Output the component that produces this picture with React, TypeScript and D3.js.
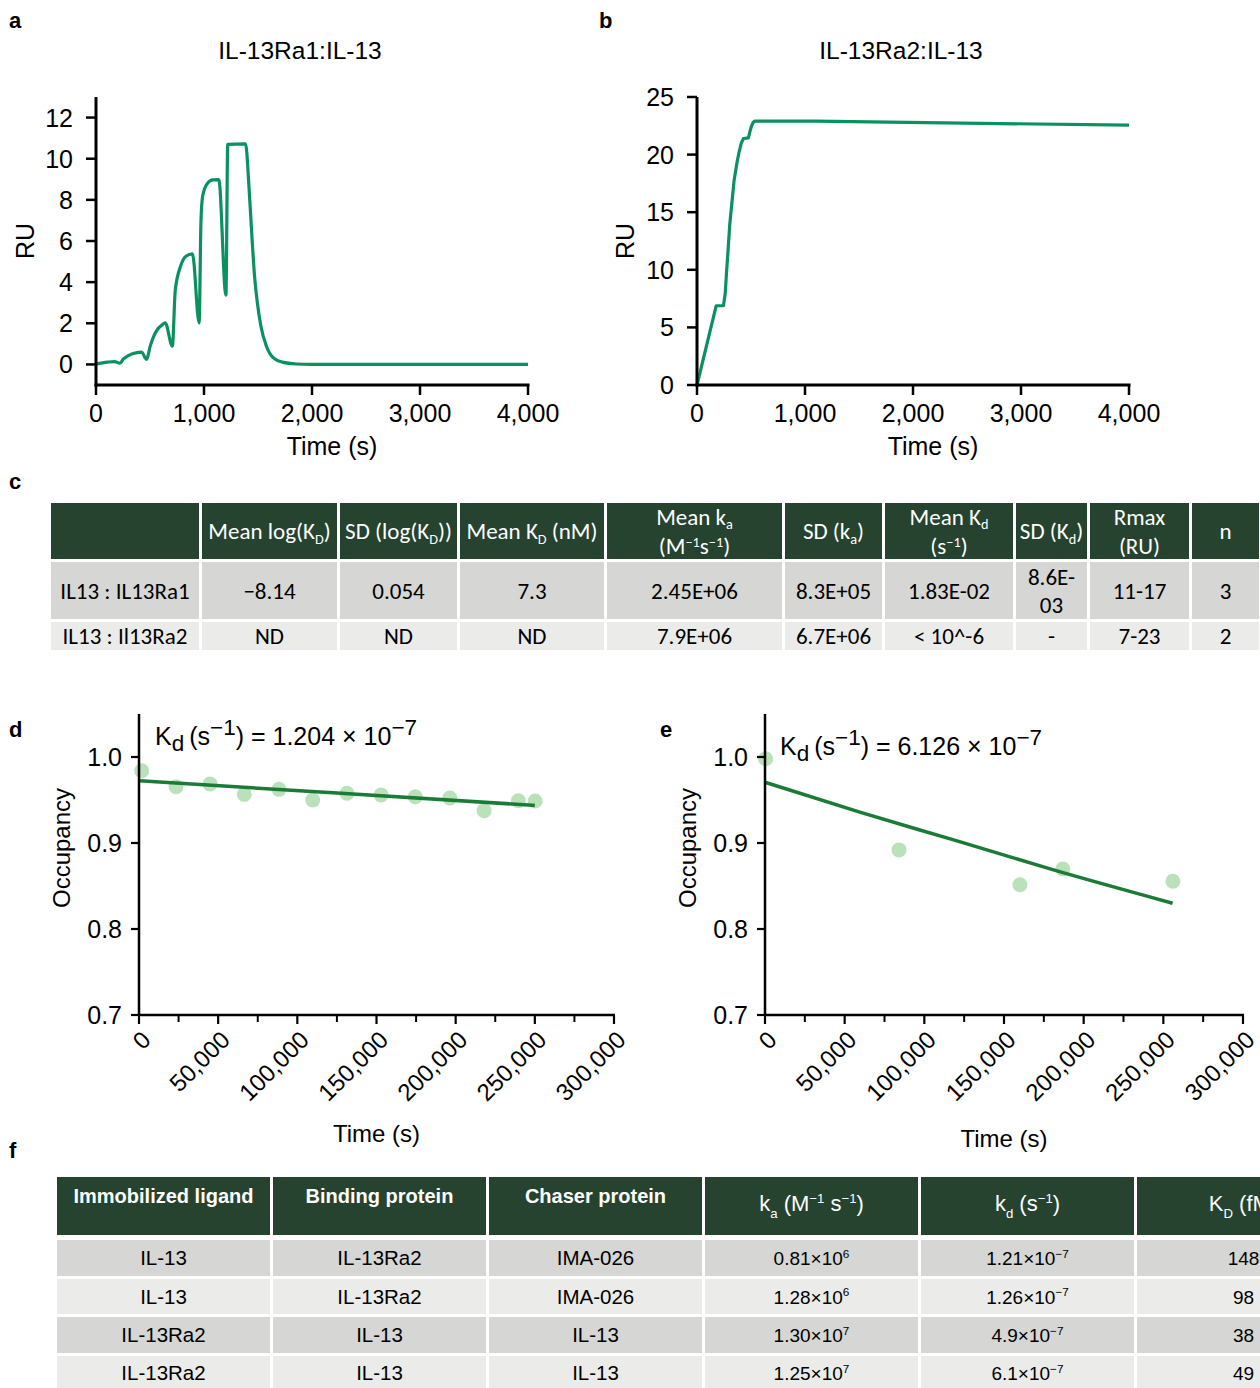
import React from 'react';
import * as d3 from 'd3';

// ---------- Panel a : IL-13Ra1:IL-13 sensorgram ----------
const aTime = [0, 106, 172, 221, 255, 300, 337, 420, 469, 502, 535, 569, 608, 641, 707, 734, 783, 833, 893, 955, 972, 988, 1031, 1081, 1137, 1203, 1220, 1385, 1418, 1445, 1468, 1494, 1527, 1577, 1643, 1726, 1858, 1990, 4000];
const aRU = [0.02, 0.11, 0.14, 0.06, 0.27, 0.43, 0.52, 0.6, 0.25, 0.89, 1.38, 1.7, 1.9, 2.02, 0.89, 3.6, 4.77, 5.26, 5.37, 2.02, 7.0, 8.2, 8.8, 8.97, 8.98, 3.37, 10.7, 10.72, 8.5, 6.1, 4.3, 3.0, 1.86, 0.9, 0.32, 0.11, 0.02, 0.0, 0.0];
const aYTicks = [0, 2, 4, 6, 8, 10, 12];

// ---------- Panel b : IL-13Ra2:IL-13 sensorgram ----------
const bTime = [0, 178, 245, 262, 271, 304, 344, 370, 387, 410, 430, 476, 490, 502, 520, 536, 1097, 4000];
const bRU = [0, 6.88, 6.88, 8.0, 9.4, 14.0, 17.8, 19.3, 20.1, 21.0, 21.4, 21.45, 22.0, 22.4, 22.8, 22.9, 22.9, 22.55];
const bYTicks = [0, 5, 10, 15, 20, 25];
const sensorXTicks = [0, 1000, 2000, 3000, 4000];

// ---------- Panel d ----------
const dTime = [1700, 23400, 44900, 66500, 88400, 109700, 131400, 152900, 174500, 196300, 218000, 239600, 250200];
const dOcc = [0.984, 0.9655, 0.9686, 0.9566, 0.9624, 0.95, 0.9578, 0.9558, 0.9538, 0.9523, 0.9376, 0.9492, 0.9488];
const dFitTime = [0, 125000, 250000];
const dFitOcc = [0.9725, 0.958, 0.9437];

// ---------- Panel e ----------
const eTime = [400, 84100, 160000, 186900, 256000];
const eOcc = [0.998, 0.892, 0.8515, 0.8698, 0.8555];
const eFitTime = [0, 60000, 120000, 180000, 255800];
const eFitOcc = [0.9706, 0.9356, 0.9027, 0.8693, 0.83];

const occYTicks = [0.7, 0.8, 0.9, 1.0];
const occXMajor = [0, 50000, 100000, 150000, 200000, 250000, 300000];
const occXMinor = [25000, 75000, 125000, 175000, 225000, 275000];

// ---------- Table c ----------
const cHeaders = [
  [''],
  ['Mean log(K_{D})'],
  ['SD (log(K_{D}))'],
  ['Mean K_{D} (nM)'],
  ['Mean k_{a}', '(M^{−1}s^{−1})'],
  ['SD (k_{a})'],
  ['Mean K_{d}', '(s^{−1})'],
  ['SD (K_{d})'],
  ['Rmax', '(RU)'],
  ['n'],
];
const cRow1 = ['IL13 : IL13Ra1', '−8.14', '0.054', '7.3', '2.45E+06', '8.3E+05', '1.83E-02', '8.6E-|03', '11-17', '3'];
const cRow2 = ['IL13 : Il13Ra2', 'ND', 'ND', 'ND', '7.9E+06', '6.7E+06', '< 10^-6', '-', '7-23', '2'];

// ---------- Table f ----------
const fHeaders = ['Immobilized ligand', 'Binding protein', 'Chaser protein', 'k_{a} (M^{−1} s^{−1})', 'k_{d} (s^{−1})', 'K_{D} (fM)'];
const fLigand = ['IL-13', 'IL-13', 'IL-13Ra2', 'IL-13Ra2'];
const fBinding = ['IL-13Ra2', 'IL-13Ra2', 'IL-13', 'IL-13'];
const fChaser = ['IMA-026', 'IMA-026', 'IL-13', 'IL-13'];
const fKa = ['0.81×10^{6}', '1.28×10^{6}', '1.30×10^{7}', '1.25×10^{7}'];
const fKd = ['1.21×10^{−7}', '1.26×10^{−7}', '4.9×10^{−7}', '6.1×10^{−7}'];
const fKD = ['148', '98', '38', '49'];

const ARIAL = "'Liberation Sans', Arial, sans-serif";
const CALIBRI = "Carlito, 'Open Sans', sans-serif";
const DARK = '#25432f';
const ROW_A = '#d6d6d4';
const ROW_B = '#ebecea';
const SENS_GREEN = '#0b9160';
const FIT_GREEN = '#1a7b36';
const DOT = '#afdcae';

function parseRich(s: string) {
  return s
    .split(/(_\{[^}]*\}|\^\{[^}]*\})/)
    .filter((p) => p.length)
    .map((p) => {
      if (p.startsWith('_{')) return { t: p.slice(2, -1), m: 'sub' };
      if (p.startsWith('^{')) return { t: p.slice(2, -1), m: 'sup' };
      return { t: p, m: '' };
    });
}

function Rich(props: any) {
  const { x, y, s, fs, anchor = 'middle', fill = '#000', weight = 'normal', family = ARIAL, subScale = 0.68, subShift = 0.25, supShift = 0.38 } = props;
  const segs = parseRich(s);
  let prev = 0;
  return (
    <text x={x} y={y} fontSize={fs} textAnchor={anchor} fill={fill} fontWeight={weight} fontFamily={family}>
      {segs.map((g, i) => {
        const shift = g.m === 'sub' ? subShift * fs : g.m === 'sup' ? -supShift * fs : 0;
        const dy = shift - prev;
        prev = shift;
        return (
          <tspan key={i} dy={dy} fontSize={g.m ? fs * subScale : fs}>
            {g.t}
          </tspan>
        );
      })}
    </text>
  );
}

function Sensorgram(props: any) {
  const { times, values, x0, x1, yDomain, yTicks, title, titleX, ylabX } = props;
  const x = d3.scaleLinear().domain([0, 4000]).range([x0, x1]);
  const y = d3.scaleLinear().domain(yDomain).range([385, 97]);
  const fmt = d3.format(',');
  const pts = times.map((t: number, i: number) => [t, values[i]] as [number, number]);
  const line = d3
    .line<[number, number]>()
    .x((d) => x(d[0]))
    .y((d) => y(d[1]))
    .curve(props.linear ? d3.curveLinear : d3.curveMonotoneX);
  const yb = y(yDomain[0]);
  const yt = y(yDomain[1]);
  return (
    <g fontFamily={ARIAL}>
      <text x={titleX} y={59} fontSize={24.5} textAnchor="middle">{title}</text>
      <path d={line(pts) || ''} fill="none" stroke={SENS_GREEN} strokeWidth={3.2} strokeLinejoin="round" />
      <line x1={x0} x2={x0} y1={yt} y2={yb + 1.5} stroke="#000" strokeWidth={3} />
      <line x1={x0 - 1.5} x2={x1 + 1.5} y1={yb} y2={yb} stroke="#000" strokeWidth={3} />
      {yTicks.map((v: number) => (
        <g key={v}>
          <line x1={x0 - 10} x2={x0} y1={y(v)} y2={y(v)} stroke="#000" strokeWidth={2.5} />
          <text x={x0 - 23} y={y(v) + 9} fontSize={25} textAnchor="end">{v}</text>
        </g>
      ))}
      {sensorXTicks.map((v) => (
        <g key={v}>
          <line x1={x(v)} x2={x(v)} y1={yb} y2={yb + 10} stroke="#000" strokeWidth={2.5} />
          <text x={x(v)} y={yb + 37} fontSize={25} textAnchor="middle">{fmt(v)}</text>
        </g>
      ))}
      <text x={(x0 + x1) / 2 + 20} y={455} fontSize={25} textAnchor="middle">Time (s)</text>
      <text transform={`translate(${ylabX},241) rotate(-90)`} fontSize={25} textAnchor="middle" dy="0.35em">RU</text>
    </g>
  );
}

function OccPanel(props: any) {
  const { times, occ, fitT, fitO, x0, x1, kdText, kdX, kdY, ylabX, timeY } = props;
  const x = d3.scaleLinear().domain([0, 300000]).range([x0, x1]);
  const y = d3.scaleLinear().domain([0.7, 1.0]).range([1015, 757]);
  const fmt = d3.format(',');
  const fitPts = fitT.map((t: number, i: number) => [t, fitO[i]] as [number, number]);
  const line = d3
    .line<[number, number]>()
    .x((d) => x(d[0]))
    .y((d) => y(d[1]))
    .curve(d3.curveMonotoneX);
  const yb = y(0.7);
  return (
    <g fontFamily={ARIAL}>
      {times.map((t: number, i: number) => (
        <circle key={i} cx={x(t)} cy={y(occ[i])} r={7.5} fill={DOT} opacity={0.85} />
      ))}
      <path d={line(fitPts) || ''} fill="none" stroke={FIT_GREEN} strokeWidth={3.5} />
      <line x1={x0} x2={x0} y1={y(1.05)} y2={yb + 1} stroke="#000" strokeWidth={2.5} />
      <line x1={x0 - 1} x2={x1 + 1} y1={yb} y2={yb} stroke="#000" strokeWidth={2.5} />
      {occYTicks.map((v: number) => (
        <g key={v}>
          <line x1={x0 - 8} x2={x0} y1={y(v)} y2={y(v)} stroke="#000" strokeWidth={2.2} />
          <text x={x0 - 17} y={y(v) + 9} fontSize={25} textAnchor="end">{v.toFixed(1)}</text>
        </g>
      ))}
      {occXMinor.map((v) => (
        <line key={v} x1={x(v)} x2={x(v)} y1={yb} y2={yb + 7} stroke="#000" strokeWidth={2} />
      ))}
      {occXMajor.map((v) => (
        <g key={v}>
          <line x1={x(v)} x2={x(v)} y1={yb} y2={yb + 9} stroke="#000" strokeWidth={2.2} />
          <text transform={`translate(${x(v) + 1},${yb + 14}) rotate(-45)`} fontSize={24} textAnchor="end" dy="0.72em">
            {fmt(v)}
          </text>
        </g>
      ))}
      <text x={(x0 + x1) / 2} y={timeY} fontSize={24} textAnchor="middle">Time (s)</text>
      <text transform={`translate(${ylabX},848) rotate(-90)`} fontSize={24} textAnchor="middle" dy="0.35em">Occupancy</text>
      <Rich x={kdX} y={kdY} s={kdText} fs={25} anchor="start" subScale={0.9} subShift={0.22} supShift={0.42} />
    </g>
  );
}

function TableC() {
  const colEdges = [51, 202, 340, 460, 607, 785, 885, 1016, 1090, 1192, 1262];
  const gap = 3;
  const hdrTop = 503, hdrBot = 559;
  const r1Top = 562, r1Bot = 619;
  const r2Top = 622, r2Bot = 650;
  const fs = 23;
  const cells: any[] = [];
  for (let c = 0; c < colEdges.length - 1; c++) {
    const xl = colEdges[c];
    const xr = colEdges[c + 1] - gap;
    const cx = (xl + xr) / 2;
    cells.push(<rect key={'h' + c} x={xl} y={hdrTop} width={xr - xl} height={hdrBot - hdrTop} fill={DARK} />);
    cells.push(<rect key={'a' + c} x={xl} y={r1Top} width={xr - xl} height={r1Bot - r1Top} fill={ROW_A} />);
    cells.push(<rect key={'b' + c} x={xl} y={r2Top} width={xr - xl} height={r2Bot - r2Top} fill={ROW_B} />);
    const hl = cHeaders[c];
    if (hl.length === 1) {
      cells.push(<Rich key={'ht' + c} x={cx} y={539} s={hl[0]} fs={fs} fill="#fff" family={CALIBRI} subScale={0.62} subShift={0.2} />);
    } else {
      cells.push(<Rich key={'ht1' + c} x={cx} y={525} s={hl[0]} fs={fs} fill="#fff" family={CALIBRI} subScale={0.62} subShift={0.18} />);
      cells.push(<Rich key={'ht2' + c} x={cx} y={554} s={hl[1]} fs={fs} fill="#fff" family={CALIBRI} subScale={0.62} supShift={0.3} />);
    }
    const v1 = cRow1[c].split('|');
    if (v1.length === 1) {
      cells.push(<text key={'r1' + c} x={cx} y={599} fontSize={fs} textAnchor="middle" fontFamily={CALIBRI}>{v1[0]}</text>);
    } else {
      cells.push(<text key={'r1a' + c} x={cx} y={585} fontSize={fs} textAnchor="middle" fontFamily={CALIBRI}>{v1[0]}</text>);
      cells.push(<text key={'r1b' + c} x={cx} y={613} fontSize={fs} textAnchor="middle" fontFamily={CALIBRI}>{v1[1]}</text>);
    }
    cells.push(<text key={'r2' + c} x={cx} y={644} fontSize={fs} textAnchor="middle" fontFamily={CALIBRI}>{cRow2[c]}</text>);
  }
  return <g>{cells}</g>;
}

function TableF() {
  const colEdges = [57, 273, 489, 705, 921, 1137, 1353];
  const gap = 3;
  const rowTops = [1240, 1279, 1317, 1356];
  const rowBots = [1276, 1314, 1353, 1390];
  const cols = [fLigand, fBinding, fChaser, fKa, fKd, fKD];
  const cells: any[] = [];
  for (let c = 0; c < 6; c++) {
    const xl = colEdges[c];
    const xr = colEdges[c + 1] - gap;
    const cx = (xl + xr) / 2;
    cells.push(<rect key={'h' + c} x={xl} y={1177} width={xr - xl} height={58} fill={DARK} />);
    if (c < 3) {
      cells.push(
        <text key={'ht' + c} x={cx} y={1203} fontSize={20} fontWeight="bold" fill="#fff" textAnchor="middle" fontFamily={ARIAL}>
          {fHeaders[c]}
        </text>
      );
    } else {
      cells.push(<Rich key={'ht' + c} x={cx} y={1211} s={fHeaders[c]} fs={22} fill="#fff" subScale={0.6} subShift={0.3} supShift={0.38} />);
    }
    for (let r = 0; r < 4; r++) {
      cells.push(
        <rect key={'c' + c + '_' + r} x={xl} y={rowTops[r]} width={xr - xl} height={rowBots[r] - rowTops[r]} fill={r % 2 === 0 ? ROW_A : ROW_B} />
      );
      cells.push(
        <Rich key={'t' + c + '_' + r} x={cx} y={(rowTops[r] + rowBots[r]) / 2 + 7} s={cols[c][r]} fs={c >= 3 ? 19 : 20.5} subScale={0.62} supShift={0.38} />
      );
    }
  }
  return <g>{cells}</g>;
}

export default function App() {
  return (
    <svg width={1260} height={1388} style={{ position: 'absolute', left: 0, top: 0, background: '#fff' }} fontFamily={ARIAL}>
      <rect x={0} y={0} width={1260} height={1388} fill="#fff" />
      <g fontFamily={ARIAL} fontWeight="bold" fontSize={22}>
        <text x={9} y={28}>a</text>
        <text x={599} y={28}>b</text>
        <text x={9} y={489}>c</text>
        <text x={9} y={737}>d</text>
        <text x={660} y={737}>e</text>
        <text x={9} y={1158}>f</text>
      </g>
      <Sensorgram times={aTime} values={aRU} x0={96} x1={528} yDomain={[-1, 13]} yTicks={aYTicks} title="IL-13Ra1:IL-13" titleX={300} ylabX={25} />
      <Sensorgram times={bTime} values={bRU} x0={697} x1={1129} yDomain={[0, 25]} yTicks={bYTicks} title="IL-13Ra2:IL-13" titleX={901} ylabX={625} linear />
      <TableC />
      <OccPanel times={dTime} occ={dOcc} fitT={dFitTime} fitO={dFitOcc} x0={139} x1={614} kdText={'K_{d}\u2009(s^{−1}) = 1.204 × 10^{−7}'} kdX={155} kdY={745} ylabX={62} timeY={1142} />
      <OccPanel times={eTime} occ={eOcc} fitT={eFitTime} fitO={eFitOcc} x0={765} x1={1243} kdText={'K_{d}\u2009(s^{−1}) = 6.126 × 10^{−7}'} kdX={780} kdY={755} ylabX={688} timeY={1147} />
      <TableF />
    </svg>
  );
}
